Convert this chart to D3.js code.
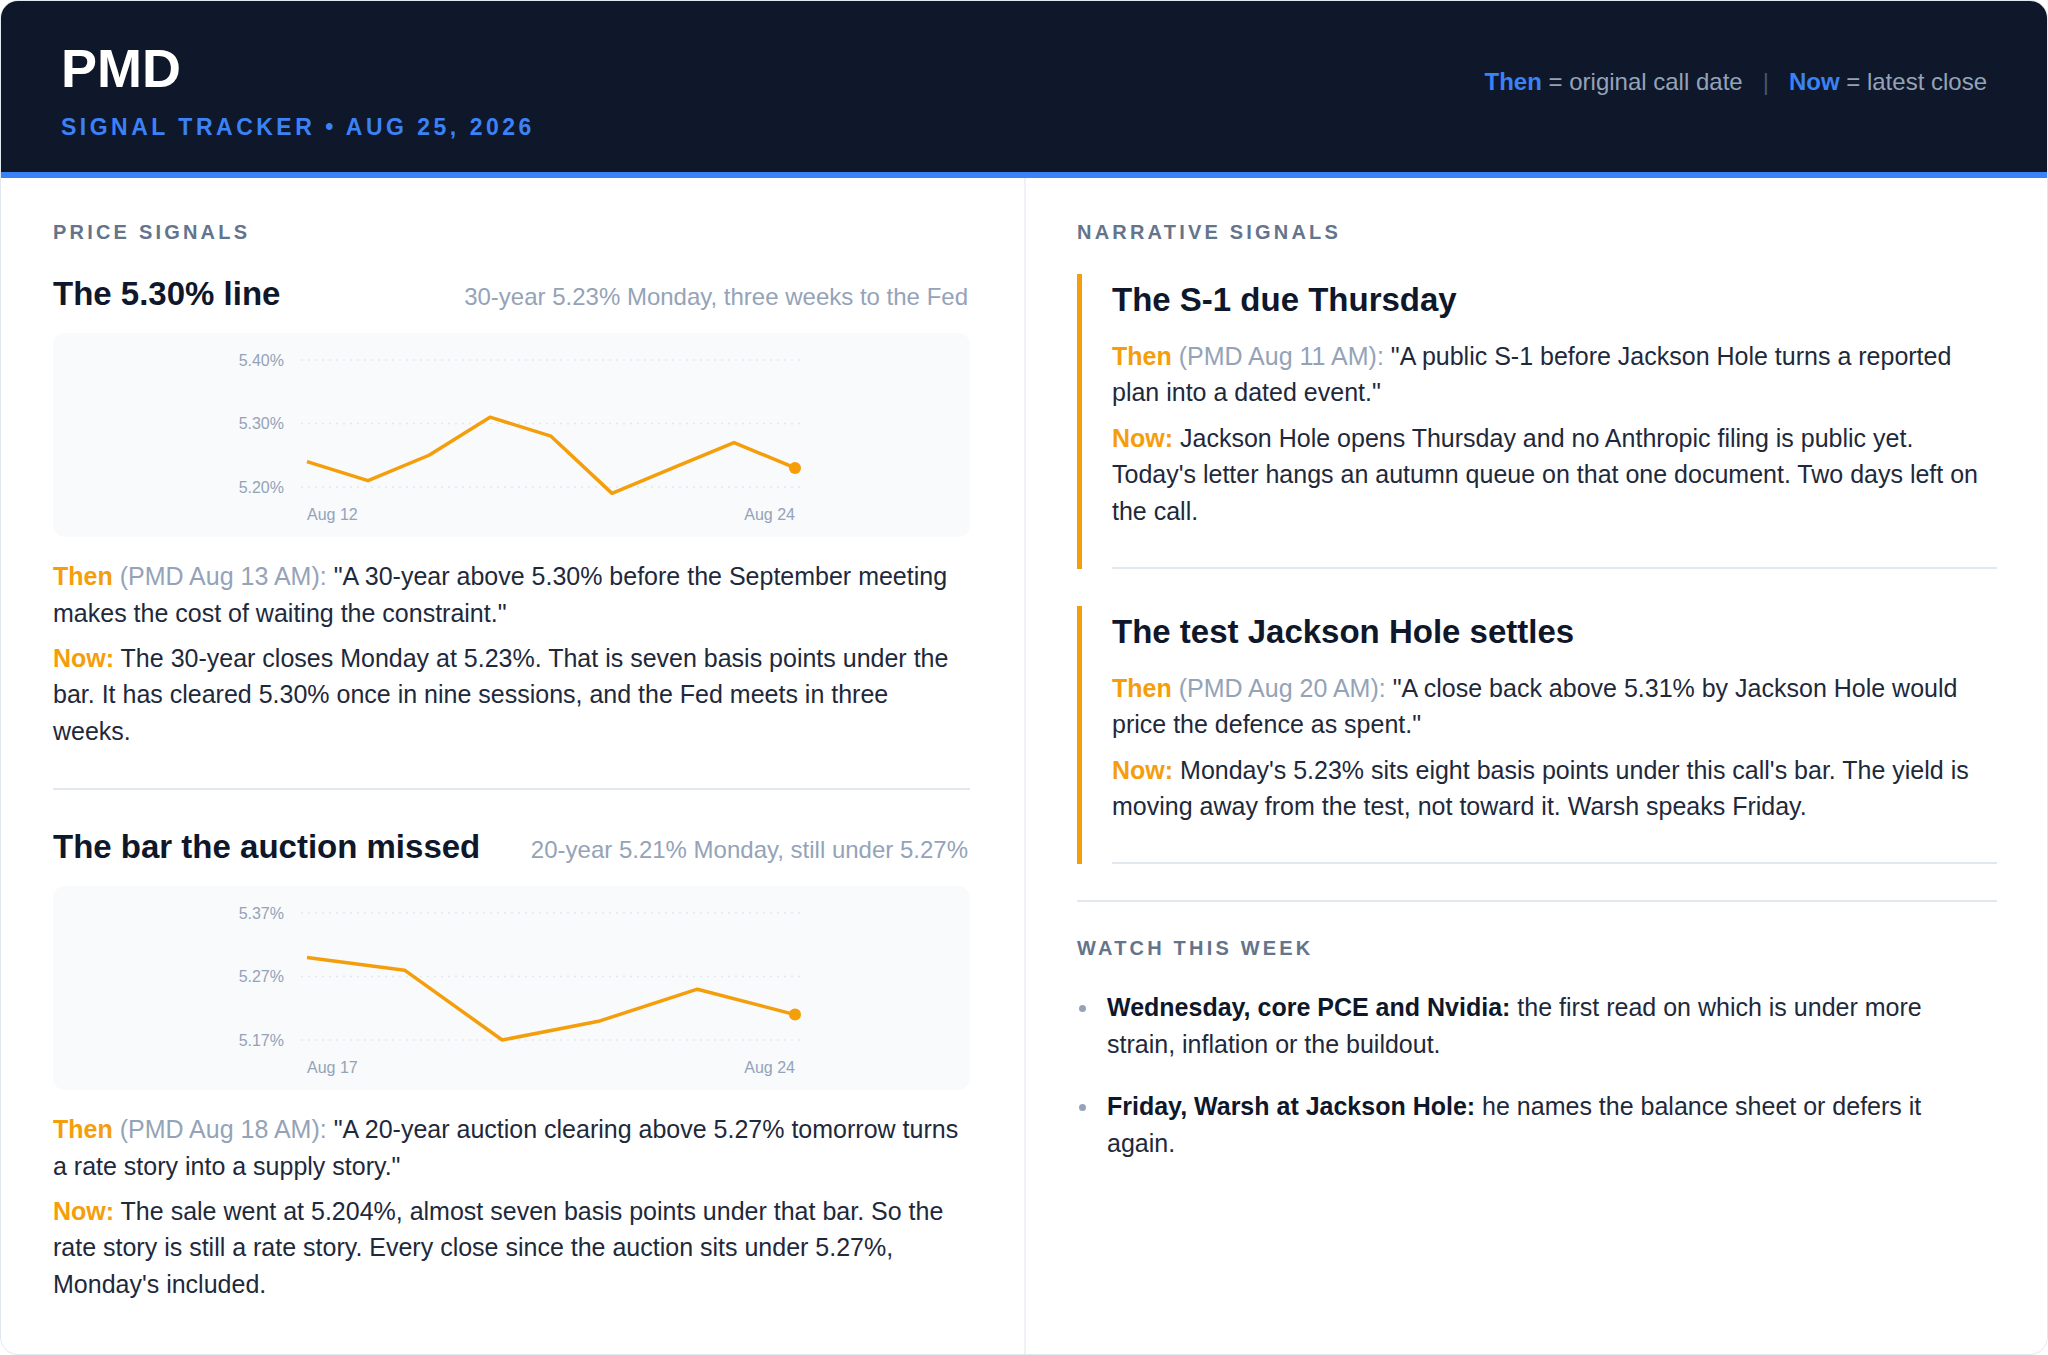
<!DOCTYPE html>
<html>
<head>
<meta charset="utf-8">
<script src="https://cdn.jsdelivr.net/npm/d3@7"></script>
<style>
  body { margin: 0; background: #fff; font-family: "Liberation Sans", Arial, Helvetica, sans-serif; }
  #page { position: relative; width: 2048px; height: 1355px; box-sizing: border-box; border: 1px solid #e2e8f0;
          border-radius: 18px; overflow: hidden; background: #fff; }
  #head { position: absolute; left: 0; top: 0; width: 100%; height: 171px; background: #0f172a; border-bottom: 6px solid #3b82f6; }
  .abs { position: absolute; white-space: nowrap; }
  .brand { font-size: 54px; font-weight: 700; color: #fff; line-height: 1; }
  .kicker { font-size: 23px; font-weight: 700; color: #3b82f6; letter-spacing: 3.5px; line-height: 1; }
  .legend { font-size: 24px; color: #94a3b8; line-height: 1; }
  .legend b { color: #3b82f6; }
  .legend .bar { color: #475569; margin: 0 20px; }
  .label { font-size: 20px; font-weight: 700; color: #64748b; letter-spacing: 3.2px; line-height: 1; }
  .title { font-size: 33px; font-weight: 700; color: #0f172a; line-height: 1; }
  .sub { font-size: 24px; color: #94a3b8; line-height: 1; }
  .para { position: absolute; font-size: 25px; line-height: 36.6px; color: #1e293b; white-space: normal; }
  .para .k { color: #f59e0b; font-weight: 700; }
  .para .m { color: #94a3b8; }
  .rule { position: absolute; height: 2px; background: #e2e8f0; }
  .box { position: absolute; background: #f8fafc; border-radius: 12px; }
  .card { position: absolute; left: 1076px; width: 920px; border-left: 5px solid #f59e0b; box-sizing: border-box; }
  .card .in { margin-left: 30px; padding-top: 7.2px; padding-bottom: 37px; border-bottom: 2px solid #e2e8f0; }
  .card .ct { font-size: 33px; font-weight: 700; color: #0f172a; line-height: 38.4px; margin-bottom: 18.3px; }
  .card p { margin: 0; font-size: 25px; line-height: 36.6px; color: #1e293b; }
  .card p + p { margin-top: 8.8px; }
  .card .k { color: #f59e0b; font-weight: 700; }
  .card .m { color: #94a3b8; }
  .item { position: absolute; left: 1106px; width: 880px; font-size: 25px; line-height: 36.6px; color: #1e293b; }
  .item b { color: #0f172a; }
  .dot { position: absolute; width: 7px; height: 7px; border-radius: 50%; background: #94a3b8; }
</style>
</head>
<body>
<div id="page"></div>
<script>
// chart data
var dates30 = ["Aug 12", "Aug 13", "Aug 14", "Aug 17", "Aug 18", "Aug 19", "Aug 20", "Aug 21", "Aug 24"];
var yield30 = [5.24, 5.21, 5.25, 5.31, 5.28, 5.19, 5.23, 5.27, 5.23];
var ticks30 = [5.20, 5.30, 5.40];

var dates20 = ["Aug 17", "Aug 18", "Aug 19", "Aug 20", "Aug 21", "Aug 24"];
var yield20 = [5.30, 5.28, 5.17, 5.20, 5.25, 5.21];
var ticks20 = [5.17, 5.27, 5.37];

// text
var priceTitles = ["The 5.30% line", "The bar the auction missed"];
var priceSubs = ["30-year 5.23% Monday, three weeks to the Fed", "20-year 5.21% Monday, still under 5.27%"];
var priceThenMeta = ["(PMD Aug 13 AM):", "(PMD Aug 18 AM):"];
var priceThen = ["\"A 30-year above 5.30% before the September meeting makes the cost of waiting the constraint.\"",
                 "\"A 20-year auction clearing above 5.27% tomorrow turns a rate story into a supply story.\""];
var priceNow = ["The 30-year closes Monday at 5.23%. That is seven basis points under the bar. It has cleared 5.30% once in nine sessions, and the Fed meets in three weeks.",
                "The sale went at 5.204%, almost seven basis points under that bar. So the rate story is still a rate story. Every close since the auction sits under 5.27%, Monday's included."];

var storyTitles = ["The S-1 due Thursday", "The test Jackson Hole settles"];
var storyThenMeta = ["(PMD Aug 11 AM):", "(PMD Aug 20 AM):"];
var storyThen = ["\"A public S-1 before Jackson Hole turns a reported plan into a dated event.\"",
                 "\"A close back above 5.31% by Jackson Hole would price the defence as spent.\""];
var storyNow = ["Jackson Hole opens Thursday and no Anthropic filing is public yet. Today's letter hangs an autumn queue on that one document. Two days left on the call.",
                "Monday's 5.23% sits eight basis points under this call's bar. The yield is moving away from the test, not toward it. Warsh speaks Friday."];

var watchLead = ["Wednesday, core PCE and Nvidia:", "Friday, Warsh at Jackson Hole:"];
var watchText = ["the first read on which is under more strain, inflation or the buildout.",
                 "he names the balance sheet or defers it again."];

var page = d3.select("#page");

// top of a line box so that its baseline lands on y
function topFor(baseline, size, lh) {
  return baseline - (lh - 1.117 * size) / 2 - 0.905 * size;
}

// header
var head = page.append("div").attr("id", "head");
head.append("div").attr("class", "abs brand").style("left", "60px").style("top", topFor(86, 54, 54) + "px").text("PMD");
head.append("div").attr("class", "abs kicker").style("left", "60px").style("top", topFor(134, 23, 23) + "px")
  .text("SIGNAL TRACKER \u2022 AUG 25, 2026");
head.append("div").attr("class", "abs legend").style("right", "60px").style("top", topFor(89, 24, 24) + "px")
  .html("<b>Then</b> = original call date<span class='bar'>|</span><b>Now</b> = latest close");

// column divider
page.append("div").attr("class", "abs").style("left", "1023px").style("top", "177px")
  .style("width", "2px").style("height", "1200px").style("background", "#eef1f5");

// section labels
page.append("div").attr("class", "abs label").style("left", "52px").style("top", topFor(238, 20, 20) + "px").text("PRICE SIGNALS");
page.append("div").attr("class", "abs label").style("left", "1076px").style("top", topFor(238, 20, 20) + "px").text("NARRATIVE SIGNALS");

// price signal blocks
var colL = 52, colW = 917;
var titleBase = [304, 857];
var series = [
  { dates: dates30, vals: yield30, ticks: ticks30 },
  { dates: dates20, vals: yield20, ticks: ticks20 }
];

titleBase.forEach(function (b, i) {
  page.append("div").attr("class", "abs title").style("left", colL + "px").style("top", topFor(b, 33, 33) + "px").text(priceTitles[i]);
  page.append("div").attr("class", "abs sub").style("right", (2048 - colL - colW) + "px").style("top", topFor(b, 24, 24) + "px").text(priceSubs[i]);

  var boxTop = b + 28;
  var box = page.append("div").attr("class", "box")
    .style("left", colL + "px").style("top", boxTop + "px").style("width", colW + "px").style("height", "204px");
  drawChart(box, series[i]);

  page.append("div").attr("class", "para").style("left", colL + "px").style("width", colW + "px")
    .style("top", topFor(b + 280, 25, 36.6) + "px")
    .html("<span class='k'>Then</span> <span class='m'>" + priceThenMeta[i] + "</span> " + priceThen[i]);
  page.append("div").attr("class", "para").style("left", colL + "px").style("width", colW + "px")
    .style("top", topFor(b + 361.5, 25, 36.6) + "px")
    .html("<span class='k'>Now:</span> " + priceNow[i]);
});
page.append("div").attr("class", "rule").style("left", colL + "px").style("width", colW + "px").style("top", "787px");

function drawChart(box, s) {
  var w = 917, h = 204;
  var svg = box.append("svg").attr("width", w).attr("height", h).style("display", "block");
  var x = d3.scalePoint().domain(s.dates).range([254, 742]);
  var y = d3.scaleLinear().domain([s.ticks[0], s.ticks[s.ticks.length - 1]]).range([154, 27]);

  var grid = svg.append("g");
  grid.selectAll("line").data(s.ticks).enter().append("line")
    .attr("x1", 248).attr("x2", 747)
    .attr("y1", function (d) { return y(d); }).attr("y2", function (d) { return y(d); })
    .attr("stroke", "#e2e8f0").attr("stroke-width", 1.5).attr("stroke-dasharray", "2,5");
  grid.selectAll("text").data(s.ticks).enter().append("text")
    .attr("x", 231).attr("y", function (d) { return y(d); }).attr("dy", "0.35em")
    .attr("text-anchor", "end").attr("font-size", 16).attr("fill", "#94a3b8")
    .text(function (d) { return d3.format(".2f")(d) + "%"; });

  var ends = [s.dates[0], s.dates[s.dates.length - 1]];
  svg.append("g").selectAll("text").data(ends).enter().append("text")
    .attr("x", function (d) { return x(d); }).attr("y", 187)
    .attr("text-anchor", function (d, i) { return i ? "end" : "start"; })
    .attr("font-size", 16).attr("fill", "#94a3b8")
    .text(function (d) { return d; });

  var line = d3.line()
    .x(function (d, i) { return x(s.dates[i]); })
    .y(function (d) { return y(d); });
  svg.append("path").datum(s.vals).attr("d", line)
    .attr("fill", "none").attr("stroke", "#f59e0b").attr("stroke-width", 3.5)
    .attr("stroke-linejoin", "round");

  var last = s.vals.length - 1;
  svg.append("circle").attr("cx", x(s.dates[last])).attr("cy", y(s.vals[last])).attr("r", 6).attr("fill", "#f59e0b");
}

// narrative cards
var cardTop = [273, 605];
cardTop.forEach(function (t, i) {
  var card = page.append("div").attr("class", "card").style("top", t + "px");
  var inner = card.append("div").attr("class", "in");
  inner.append("div").attr("class", "ct").text(storyTitles[i]);
  inner.append("p").html("<span class='k'>Then</span> <span class='m'>" + storyThenMeta[i] + "</span> " + storyThen[i]);
  inner.append("p").html("<span class='k'>Now:</span> " + storyNow[i]);
});
page.append("div").attr("class", "rule").style("left", "1076px").style("width", "920px").style("top", "899px");

page.append("div").attr("class", "abs label").style("left", "1076px").style("top", topFor(954, 20, 20) + "px").text("WATCH THIS WEEK");

var watchBase = [1015, 1114];
watchBase.forEach(function (b, i) {
  page.append("div").attr("class", "dot").style("left", "1078px").style("top", (b - 11) + "px");
  page.append("div").attr("class", "item").style("top", topFor(b, 25, 36.6) + "px")
    .html("<b>" + watchLead[i] + "</b> " + watchText[i]);
});
</script>
</body>
</html>
